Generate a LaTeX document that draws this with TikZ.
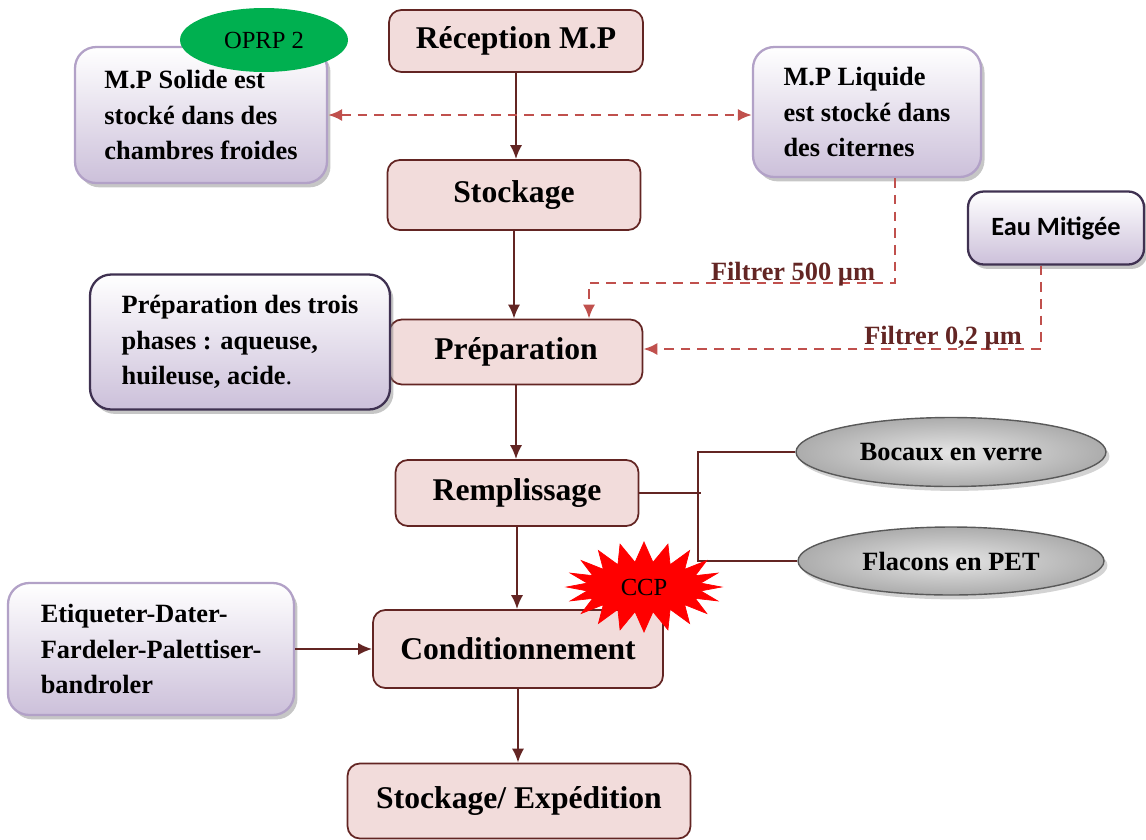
\documentclass[tikz,border=0pt]{standalone}
\usepackage{fontspec}
\setmainfont{Liberation Serif}
\newfontfamily\calibrifont{Carlito}
\usepackage{xcolor}
\usepackage{tikz}
\usetikzlibrary{shapes}
\usetikzlibrary{shadows}
\usetikzlibrary{arrows.meta}
\usetikzlibrary{positioning}
\definecolor{boxred}{RGB}{242,220,219}
\definecolor{darkred}{RGB}{99,37,35}
\definecolor{dashred}{RGB}{192,80,77}
\definecolor{lilac}{RGB}{204,192,218}
\definecolor{lilacborder}{RGB}{178,161,199}
\definecolor{navyborder}{RGB}{63,49,81}
\definecolor{oprpgreen}{RGB}{0,176,80}

\begin{document}
\begin{tikzpicture}[
    x=0.02cm, y=-0.02cm,
    stepbox/.style={rounded corners=7pt, draw=darkred, fill=boxred, line width=1pt,
      font=\fontsize{18}{22}\selectfont\bfseries},
    note/.style={rounded corners=12pt, draw=lilacborder, line width=1.3pt,
      top color=white, bottom color=lilac, align=left,
      drop shadow={opacity=0.45, shadow xshift=2pt, shadow yshift=-2.5pt},
      font=\fontsize{15}{20}\selectfont\bfseries},
    pack/.style={ellipse, draw=gray!70!black, line width=0.8pt,
      inner color=gray!20, outer color=gray!65,
      drop shadow={opacity=0.35, shadow xshift=2pt, shadow yshift=-2.5pt},
      font=\fontsize{15}{18}\selectfont\bfseries},
    flow/.style={draw=darkred, line width=1.3pt, -{Latex[length=8pt,width=7pt]}},
    link/.style={draw=darkred, line width=1.3pt},
    filter/.style={draw=dashred, line width=1.5pt, dash pattern=on 5.5pt off 4pt},
    filterlabel/.style={text=darkred, font=\fontsize{15}{18}\selectfont\bfseries, inner sep=0pt}
]
\useasboundingbox (0,0) rectangle (1146,839);

% main chain
\node[stepbox, minimum width=5.08cm, minimum height=1.24cm] (recep) at (516,41) {Réception M.P};
\node[stepbox, minimum width=5.06cm, minimum height=1.40cm] (stock) at (514,195) {Stockage};
\node[stepbox, minimum width=5.06cm, minimum height=1.30cm] (prep) at (516,352) {Préparation};
\node[stepbox, minimum width=4.86cm, minimum height=1.32cm] (rempl) at (517,493) {Remplissage};
\node[stepbox, minimum width=5.80cm, minimum height=1.56cm] (cond) at (518,649) {Conditionnement};
\node[stepbox, minimum width=6.86cm, minimum height=1.50cm] (exped) at (519,801) {Stockage/ Expédition};

% side notes
\node[note, minimum width=5.04cm, minimum height=2.72cm] (solide) at (201,115)
  {M.P Solide est\\stocké dans des\\chambres froides};
\node[note, minimum width=4.56cm, minimum height=2.60cm] (liquide) at (867,112)
  {M.P Liquide\\est stocké dans\\des citernes};
\node[note, draw=navyborder, minimum width=6.00cm, minimum height=2.70cm] (trois) at (240,342)
  {Préparation des trois\\phases : aqueuse,\\huileuse, acide\textmd{.}};
\node[note, minimum width=5.72cm, minimum height=2.64cm] (etiq) at (151,649)
  {Etiqueter-Dater-\\Fardeler-Palettiser-\\bandroler};
\node[note, draw=navyborder, rounded corners=9pt, minimum width=3.52cm, minimum height=1.46cm,
  font=\calibrifont\fontsize{15}{18}\selectfont\bfseries] (eau) at (1056,228) {Eau Mitigée};

\node[ellipse, fill=oprpgreen, minimum width=3.36cm, minimum height=1.28cm, inner sep=0pt,
  font=\fontsize{14}{16}\selectfont] (oprp) at (264,40) {OPRP 2};

% packaging
\node[pack, minimum width=6.20cm, minimum height=1.38cm] (bocaux) at (951,452) {Bocaux en verre};
\node[pack, minimum width=6.12cm, minimum height=1.36cm] (flacons) at (951,561) {Flacons en PET};

% arrows
\draw[flow] (recep.south) -- (recep.south |- stock.north);
\draw[flow] (stock.south) -- (stock.south |- prep.north);
\draw[flow] (prep.south) -- (prep.south |- rempl.north);
\draw[flow] (rempl.south) -- (rempl.south |- cond.north);
\draw[flow] (cond.south) -- (cond.south |- exped.north);
\draw[flow] (etiq.east) -- (cond.west);

\draw[filter, {Latex[length=8pt,width=7pt]}-{Latex[length=8pt,width=7pt]}] (solide.east) -- (solide.east -| liquide.west);

\coordinate (f1) at (895,283);
\coordinate (f1b) at (589,283);
\draw[filter, -{Latex[length=8pt,width=7pt]}] (liquide.south -| f1) -- (f1) -- (f1b) -- (f1b |- prep.north);
\node[filterlabel] (lab1) at (793,274) {Filtrer 500 µm};

\coordinate (f2) at (1041,349);
\draw[filter, -{Latex[length=8pt,width=7pt]}] (eau.south -| f2) -- (f2) -- (f2 -| prep.east);
\node[filterlabel] (lab2) at (943,338) {Filtrer 0,2 µm};

\coordinate (fork) at (698,497);
\coordinate (forkend) at (701,497);
\draw[link] (rempl.east) -- (rempl.east -| forkend);
\draw[link] (bocaux.west) -- (bocaux.west -| fork) -- (flacons.west -| fork) -- (flacons.west);

\node[starburst, starburst points=20, starburst point height=0.4cm, random starburst=0,
  minimum width=3.1cm, minimum height=1.8cm, inner sep=0pt, fill=red, draw=red,
  font=\fontsize{14}{16}\selectfont] (ccp) at (644,587) {CCP};
\end{tikzpicture}
\end{document}
